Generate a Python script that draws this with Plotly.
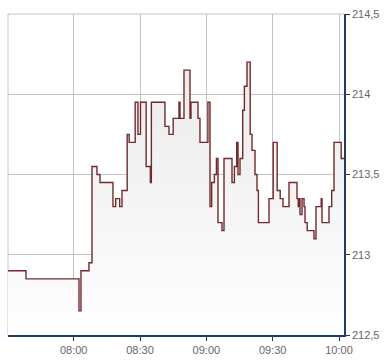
import plotly.graph_objects as go

day = "2024-01-02 "
times = ["07:30:18","07:38:26","08:02:24","08:03:18","08:06:55","08:08:17","08:10:32","08:11:54",
         "08:17:46","08:19:00","08:20:48","08:21:51","08:24:12","08:25:06","08:27:49","08:29:05",
         "08:30:13","08:32:47","08:34:41","08:35:08","08:41:17","08:43:06","08:45:00","08:47:38",
         "08:48:05","08:49:53","08:52:36","08:53:03","08:56:13","08:57:07","09:00:42","09:01:39",
         "09:02:25","09:03:38","09:04:33","09:05:16","09:07:04","09:07:59","09:11:36","09:12:41",
         "09:13:43","09:14:19","09:15:13","09:16:26","09:17:12","09:18:23","09:19:50","09:20:39",
         "09:22:00","09:22:54","09:23:32","09:28:20","09:30:14","09:32:02","09:33:24","09:34:40",
         "09:37:23","09:41:00","09:41:33","09:41:54","09:42:21","09:43:16","09:44:10","09:44:37",
         "09:45:37","09:48:41","09:49:35","09:51:56","09:52:18","09:55:28","09:56:41","09:57:44",
         "10:00:59","10:02:15"]
prices = [212.90,212.85,212.65,212.90,212.95,213.55,213.50,213.45,
          213.30,213.35,213.30,213.40,213.75,213.70,213.95,213.75,
          213.95,213.55,213.45,213.95,213.80,213.75,213.85,213.95,
          213.85,214.15,213.85,213.95,213.85,213.70,213.95,213.30,
          213.45,213.50,213.60,213.20,213.15,213.60,213.45,213.55,
          213.70,213.50,213.60,213.90,214.05,214.20,213.75,213.65,
          213.50,213.40,213.20,213.35,213.70,213.40,213.35,213.30,
          213.45,213.35,213.30,213.35,213.25,213.35,213.30,213.20,
          213.15,213.10,213.30,213.35,213.20,213.30,213.40,213.70,
          213.60,213.60]
x_ticks = ["08:00", "08:30", "09:00", "09:30", "10:00"]
y_ticks = [212.5, 213, 213.5, 214, 214.5]
y_labels = ["212,5", "213", "213,5", "214", "214,5"]

xs = [day + t for t in times]

fig = go.Figure()
fig.add_trace(go.Scatter(
    x=xs, y=prices, mode="lines", line=dict(color="#722a2d", width=1.4, shape="hv"),
    fill="tozeroy",
    fillgradient=dict(type="vertical", colorscale=[[0, "#ffffff"], [1, "#e9e9e9"]],
                      start=212.5, stop=214.3),
    hoverinfo="skip", showlegend=False,
))

axis_font = dict(family="Liberation Sans, Arial, sans-serif", size=11, color="#666666")
fig.update_layout(
    width=390, height=364,
    margin=dict(l=8, r=46, t=11, b=26),
    paper_bgcolor="white", plot_bgcolor="white",
    xaxis=dict(
        range=[xs[0], xs[-1]],
        tickvals=[day + t for t in x_ticks], ticktext=x_ticks,
        showgrid=True, gridcolor="#c4c4c4", gridwidth=1,
        showline=True, linecolor="#1d3d6b", linewidth=1.5,
        ticks="outside", ticklen=4, tickcolor="#333333", tickwidth=1,
        tickfont=axis_font, zeroline=False,
    ),
    yaxis=dict(
        range=[212.5, 214.5], side="right",
        tickvals=y_ticks, ticktext=y_labels,
        showgrid=True, gridcolor="#c4c4c4", gridwidth=1,
        showline=True, linecolor="#1d3d6b", linewidth=1.5,
        ticks="outside", ticklen=4, tickcolor="#333333", tickwidth=1,
        tickfont=axis_font, zeroline=False,
    ),
    shapes=[
        dict(type="line", xref="paper", yref="paper", x0=0, x1=0, y0=0, y1=1,
             line=dict(color="#c4c4c4", width=1), layer="below"),
        dict(type="line", xref="paper", yref="paper", x0=0, x1=1, y0=1, y1=1,
             line=dict(color="#c4c4c4", width=1), layer="below"),
    ],
)

fig.write_html("out.html")
